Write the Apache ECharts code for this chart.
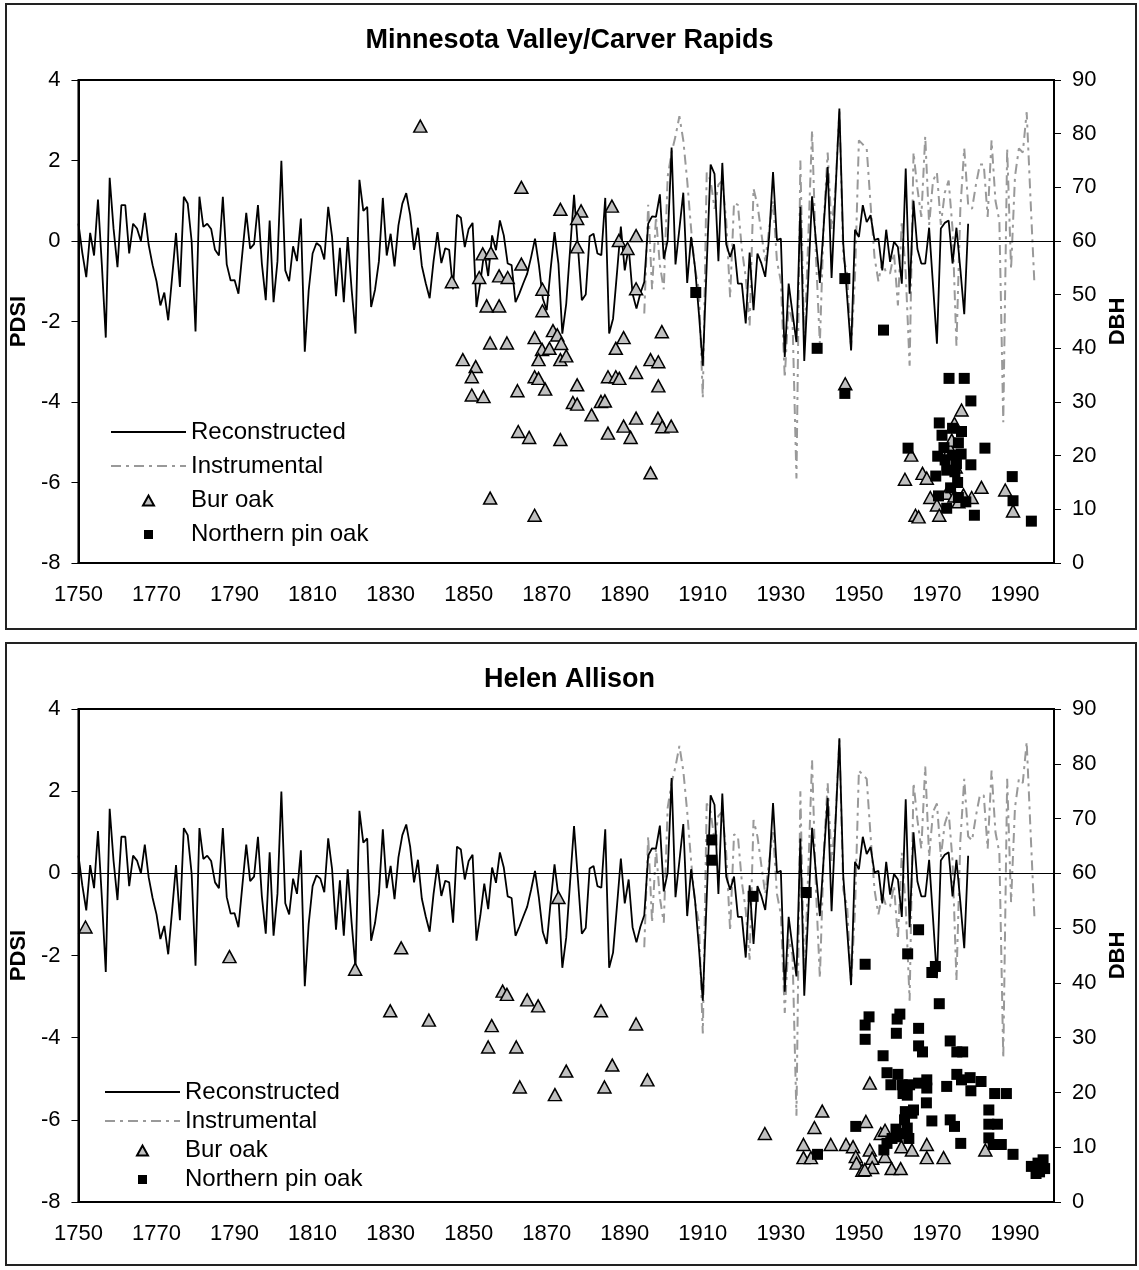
<!DOCTYPE html>
<html>
<head>
<meta charset="utf-8">
<script src="https://cdn.jsdelivr.net/npm/echarts@6/dist/echarts.min.js"></script>
<style>
html,body{margin:0;padding:0;background:#fff;}
#chart{width:1139px;height:1270px;}
</style>
</head>
<body>
<div id="chart"></div>
<script>
// ---------------- DATA ----------------
const panelTitles = ['Minnesota Valley/Carver Rapids', 'Helen Allison'];
const seriesNames = ['Reconstructed', 'Instrumental', 'Bur oak', 'Northern pin oak'];

// Reconstructed PDSI, one value per year starting 1750 (to 1978)
const reconStartYear = 1750;
const reconValues = [
  0.43,-0.3,-0.9,0.2,-0.36,1.03,-0.6,-2.4,1.57,0.3,
  -0.65,0.89,0.89,-0.31,0.43,0.31,0.0,0.7,-0.1,-0.6,
  -1.0,-1.6,-1.28,-1.97,-0.9,0.2,-1.14,1.1,0.93,0.0,
  -2.25,1.1,0.35,0.43,0.3,-0.22,-0.36,1.1,-0.58,-0.98,
  -0.97,-1.31,-0.3,0.7,-0.19,-0.08,0.89,-0.56,-1.47,0.51,
  -1.52,-0.5,1.99,-0.73,-1.0,-0.13,-0.5,0.56,-2.75,-1.23,
  -0.31,-0.05,-0.13,-0.46,0.85,0.1,-1.37,-0.17,-1.52,0.1,
  -1.2,-2.3,1.52,0.75,0.85,-1.64,-1.21,-0.5,1.07,-0.36,
  0.18,-0.63,0.39,0.93,1.19,0.65,-0.22,0.33,-0.62,-1.05,
  -1.42,-0.5,0.22,-0.55,-0.18,-0.22,-1.2,0.65,0.58,-0.15,
  0.3,0.45,-1.64,-1.02,-0.25,-0.87,0.14,-0.23,0.51,0.14,
  -0.56,-0.6,-1.52,-1.3,-1.05,-0.81,-0.4,0.06,-0.6,-1.43,
  -1.72,-0.7,0.22,-0.56,-2.3,-1.56,-0.2,1.15,-0.15,-1.47,
  -1.33,0.12,0.18,-0.31,-0.35,1.07,-2.3,-1.93,-0.8,0.36,
  -0.73,-0.15,-1.31,-1.68,-1.3,-1.02,0.43,0.61,0.6,1.16,
  -0.44,0.02,2.32,-0.58,0.3,1.2,-1.04,0.1,-0.65,-1.8,
  -3.1,-0.6,1.9,1.67,-0.5,1.94,-0.08,-0.4,-0.08,-1.06,
  -1.06,-2.05,-0.29,-1.72,-0.31,-0.55,-0.89,0.1,1.71,0.02,
  0.06,-2.88,-1.06,-1.8,-2.51,0.85,-2.98,-1.0,1.11,0.0,
  -1.04,0.4,1.84,-0.92,1.2,3.29,-0.07,-1.4,-2.72,0.28,
  0.1,0.89,0.47,0.64,0.02,0.06,-0.73,0.28,-0.52,-0.02,
  -0.15,-1.06,1.8,-1.31,1.0,-0.2,-0.56,-0.56,0.33,-1.1,
  -2.55,0.31,0.45,0.51,-0.56,0.33,-0.7,-1.82,0.43
];

// Instrumental PDSI, one value per year starting 1895 (to 1995)
const instStartYear = 1895;
const instValues = [
  -1.8,0.9,-1.2,0.6,-0.6,-1.2,1.6,2.2,2.6,3.1,
  2.5,1.5,0.3,-0.7,-1.2,-3.9,1.7,1.5,0.8,1.4,
  1.5,0.5,-1.4,0.95,0.9,-0.2,-0.9,-2.1,1.3,0.9,
  0.2,-0.5,0.3,1.0,-0.5,-1.0,-3.4,-1.6,-2.0,-5.9,
  2.0,-2.6,0.0,2.75,-0.4,-2.55,0.5,2.2,0.3,1.3,
  3.25,-0.4,-0.8,-2.7,-0.9,2.5,2.4,2.3,0.9,-0.4,
  -1.0,-0.5,-0.8,-0.8,-0.3,-1.6,0.5,-0.8,-3.1,2.2,
  1.3,0.6,2.6,0.4,1.5,1.7,0.4,1.2,1.5,0.3,
  -2.6,0.8,2.3,0.9,0.8,1.4,1.9,1.9,0.6,2.5,
  1.0,0.5,-4.5,2.3,-0.7,1.6,2.3,2.2,3.2,1.0,-1.1
];

// Tree establishment [year, DBH]
const burOakTop = [
  [1837.6,81.4],[1863.5,70.0],[1873.5,65.9],[1878.8,65.6],[1877.8,64.2],[1886.7,66.5],[1877.8,58.9],[1888.5,60.1],
  [1892.9,61.0],[1890.7,58.6],[1845.7,52.4],[1853.6,57.6],[1855.7,57.8],[1852.7,53.2],[1857.8,53.5],[1860,53.2],
  [1863.5,55.7],[1868.9,51.0],[1854.6,47.9],[1857.8,47.9],[1868.9,47.0],[1892.9,51.1],[1871.6,43.3],[1872.7,42.5],
  [1873.7,40.9],[1866.9,42.0],[1868.8,39.8],[1870.7,40.0],[1867.9,37.9],[1873.5,37.9],[1875,38.6],[1855.5,41.0],
  [1859.8,41.0],[1848.5,37.9],[1851.8,36.6],[1850.8,34.7],[1850.8,31.3],[1853.8,31.0],[1862.5,32.1],[1866.9,34.7],
  [1867.9,34.4],[1869.6,32.4],[1877.8,33.2],[1876.7,29.9],[1877.8,29.6],[1883.9,30.1],[1884.9,30.2],[1881.5,27.6],
  [1885.7,34.7],[1887.7,34.7],[1888.6,34.4],[1892.9,35.5],[1887.7,40.0],[1889.7,42.0],[1896.6,37.9],[1898.6,37.5],
  [1899.5,43.1],[1898.6,33.0],[1862.7,24.5],[1865.5,23.4],[1873.5,23.0],[1885.7,24.2],[1889.7,25.5],[1891.5,23.4],
  [1892.9,27.0],[1898.5,27.0],[1899.6,25.4],[1901.9,25.5],[1896.6,16.8],[1855.5,12.1],[1866.9,8.9],[1946.5,33.4],
  [1976.3,28.5],[1974.5,26.0],[1963.4,20.1],[1973.4,21.2],[1961.8,15.6],[1966.3,16.7],[1967.4,15.8],[1981.4,14.1],
  [1987.5,13.6],[1989.5,9.7],[1968.3,12.2],[1970,10.8],[1972.5,13.0],[1974.5,12.5],[1976.8,12.7],[1978.9,12.2],
  [1964.5,8.9],[1965.3,8.6],[1970.6,8.9],[1975.5,11.4],[1974.8,17.9],[1973.8,22.9]
];
const pinOakTop = [
  [1908.2,50.4],[1939.3,40.0],[1946.4,53.0],[1946.4,31.6],[1956.3,43.4],[1973.1,34.4],[1977,34.4],[1978.7,30.2],
  [1970.6,26.1],[1971.3,23.8],[1974,25.1],[1976.3,24.5],[1975.5,22.4],[1962.6,21.4],[1982.3,21.4],[1970.2,19.9],
  [1972.1,19.2],[1974,20.1],[1976.2,20.3],[1978.7,18.3],[1972.5,17.3],[1974.6,17.0],[1969.7,16.2],[1975.3,15.0],
  [1989.3,16.1],[1970.4,12.5],[1975.5,12.2],[1977.4,11.4],[1972.5,10.2],[1979.6,8.9],[1989.5,11.6],[1994.2,7.8],
  [1973.5,14.0],[1975.0,18.5],[1971.8,21.5]
];
const burOakBottom = [
  [1751.8,50.2],[1788.7,44.8],[1820.9,42.5],[1832.7,46.4],[1829.9,34.9],[1839.8,33.2],[1873.0,55.6],[1858.7,38.5],
  [1859.8,37.9],[1865.0,36.9],[1867.8,35.8],[1855.9,32.2],[1855.0,28.3],[1862.2,28.3],[1883.9,34.9],[1892.9,32.5],
  [1886.8,25.0],[1875.0,23.9],[1895.8,22.3],[1863.1,21.0],[1872.1,19.6],[1884.8,21.0],
  [1925.9,12.5],[1940.6,16.6],[1938.6,13.6],[1935.8,10.5],[1935.8,8.1],[1937.7,8.1],[1942.8,10.5],[1946.7,10.5],
  [1948.5,10.1],[1949.2,8.3],[1949.4,7.1],[1950.9,5.8],[1952.8,21.7],[1951.8,14.7],[1952.8,9.5],[1953.4,8.0],
  [1953.4,6.3],[1955.6,12.5],[1956.7,13.1],[1956.7,8.3],[1958.4,6.1],[1960.7,6.1],[1960.9,10.1],[1963.6,9.5],
  [1967.4,10.5],[1967.4,8.1],[1971.7,8.1],[1982.4,9.5],[1951.5,5.9]
];
const pinOakBottom = [
  [1912.3,66.1],[1912.3,62.4],[1922.9,55.8],[1936.5,56.5],[1965.3,49.7],[1962.5,45.3],[1951.6,43.4],[1969.6,43.0],
  [1968.7,41.9],[1970.6,36.2],[1952.6,33.8],[1951.6,32.3],[1951.6,29.7],[1960.5,34.3],[1959.8,33.4],[1959.6,30.8],
  [1965.3,31.7],[1965.3,28.5],[1966.3,27.4],[1973.4,29.4],[1975.1,27.4],[1976.6,27.4],[1956.2,26.7],[1957.2,23.6],
  [1960,23.3],[1958.2,21.4],[1961.1,21.4],[1963,21.4],[1965.3,21.7],[1967.4,22.3],[1967.4,20.8],[1961.3,19.8],
  [1962.4,19.5],[1972.5,21.1],[1975.1,23.3],[1976.3,22.3],[1978.5,22.7],[1978.7,20.3],[1981.3,22.0],[1984.8,19.8],
  [1987.8,19.8],[1967.3,18.1],[1964,16.8],[1961.9,16.5],[1961.7,15.0],[1962.4,13.5],[1962.8,11.6],[1968.7,14.8],
  [1973.4,15.0],[1974.5,13.8],[1983.3,16.8],[1983.3,14.2],[1985.5,14.2],[1983.3,11.7],[1984.4,10.5],[1986.5,10.5],
  [1976.1,10.7],[1989.5,8.7],[1949.2,13.8],[1939.4,8.7],[1959.5,13.3],[1958.5,11.6],[1957.2,10.7],[1956.4,9.5],
  [1959.8,11.9],[1961.5,12.5],[1963.6,16.2],[1994.2,6.5],[1995.9,7.1],[1996.3,5.5],[1997.6,6.1],[1997.2,7.7],
  [1995.4,5.2],[1986.0,10.5]
];

// Axis ranges / ticks
const xMin = 1750, xMax = 2000, xStep = 20;
const pdsiMin = -8, pdsiMax = 4, pdsiStep = 2;
const dbhMin = 0, dbhMax = 90, dbhStep = 10;

// ---------------- BUILD ----------------
const FONT = '"Liberation Sans", Arial, sans-serif';
const toPairs = (start, vals) => vals.map((v, i) => [start + i, v]);
const reconData = toPairs(reconStartYear, reconValues);
const instData = toPairs(instStartYear, instValues);

const layouts = [
  { top: 80, height: 483, titleTop: 22, legendLeft: 110, legendTop: 420, legendGap: 10 },
  { top: 709, height: 493, titleTop: 661, legendLeft: 104, legendTop: 1080, legendGap: 5 }
];
const scatterSets = [[burOakTop, pinOakTop], [burOakBottom, pinOakBottom]];

// legend marker icons: a small marker centred in the 75 px legend slot
const triIcon = 'path://M0,0L0,0M75,12L75,12M32,11.5L37.5,1.5L43,11.5Z';
const sqIcon = 'path://M0,0L0,0M75,12L75,12M33,2H42V11H33Z';
const legendData = [
  { name: 'Reconstructed', itemStyle: { opacity: 0 } },
  { name: 'Instrumental', itemStyle: { opacity: 0 } },
  { name: 'Bur oak', icon: triIcon },
  { name: 'Northern pin oak', icon: sqIcon }
];

const option = {
  animation: false,
  backgroundColor: '#fff',
  textStyle: { fontFamily: FONT },
  graphic: [
    { type: 'rect', silent: true, z: -10, shape: { x: 6, y: 4, width: 1130, height: 625 }, style: { fill: 'none', stroke: '#222', lineWidth: 2 } },
    { type: 'rect', silent: true, z: -10, shape: { x: 6, y: 643, width: 1130, height: 622 }, style: { fill: 'none', stroke: '#222', lineWidth: 2 } }
  ],
  title: [], grid: [], xAxis: [], yAxis: [], legend: [], series: []
};

layouts.forEach((L, p) => {
  option.title.push({
    text: panelTitles[p], left: 'center', top: L.titleTop,
    textStyle: { fontFamily: FONT, fontSize: 27, fontWeight: 'bold', color: '#000' }
  });
  option.grid.push({
    left: 74, right: 85, top: L.top, height: L.height,
    show: true, borderColor: '#000', borderWidth: 2, backgroundColor: 'transparent'
  });
  option.xAxis.push({
    type: 'value', gridIndex: p, min: xMin, max: xMax, interval: xStep,
    axisLine: { show: true, onZero: false, lineStyle: { color: '#000', width: 2 } },
    axisTick: { show: false },
    splitLine: { show: false },
    axisLabel: { color: '#000', fontSize: 22, fontFamily: FONT, margin: 21,
      formatter: v => (v === xMax ? '' : String(v)) }
  });
  option.yAxis.push({
    type: 'value', gridIndex: p, min: pdsiMin, max: pdsiMax, interval: pdsiStep, position: 'left',
    name: 'PDSI', nameLocation: 'middle', nameRotate: 90, nameGap: 34,
    nameTextStyle: { fontFamily: FONT, fontSize: 22, fontWeight: 'bold', color: '#000' },
    axisLine: { show: true, onZero: false, lineStyle: { color: '#000', width: 2 } },
    axisTick: { show: true, length: 7, lineStyle: { color: '#000', width: 1 } },
    splitLine: { show: false },
    axisLabel: { color: '#000', fontSize: 22, fontFamily: FONT, margin: 18 }
  });
  option.yAxis.push({
    type: 'value', gridIndex: p, min: dbhMin, max: dbhMax, interval: dbhStep, position: 'right',
    name: 'DBH', nameLocation: 'middle', nameRotate: 90, nameGap: 50,
    nameTextStyle: { fontFamily: FONT, fontSize: 22, fontWeight: 'bold', color: '#000' },
    axisLine: { show: true, onZero: false, lineStyle: { color: '#000', width: 2 } },
    axisTick: { show: true, length: 7, lineStyle: { color: '#000', width: 1 } },
    splitLine: { show: false },
    axisLabel: { color: '#000', fontSize: 22, fontFamily: FONT, margin: 18 }
  });
  option.legend.push({
    orient: 'vertical', left: L.legendLeft, top: L.legendTop, padding: 0,
    itemWidth: 75, itemHeight: 12, itemGap: L.legendGap,
    symbolKeepAspect: true,
    selectedMode: false, data: legendData,
    textStyle: { fontFamily: FONT, fontSize: 24, color: '#000' }
  });
  const yPdsi = p * 2, yDbh = p * 2 + 1;
  option.series.push({
    name: 'Instrumental', type: 'line', xAxisIndex: p, yAxisIndex: yPdsi,
    data: instData, symbol: 'none', z: 2,
    lineStyle: { color: '#999', width: 2, type: [10, 5, 3, 5] },
    itemStyle: { color: '#999' }
  });
  option.series.push({
    name: 'Reconstructed', type: 'line', xAxisIndex: p, yAxisIndex: yPdsi,
    data: reconData, symbol: 'none', z: 3,
    lineStyle: { color: '#000', width: 1.8 },
    itemStyle: { color: '#000' },
    markLine: {
      silent: true, symbol: ['none', 'none'], label: { show: false },
      lineStyle: { color: '#000', width: 1, type: 'solid' },
      data: [{ yAxis: 0 }]
    }
  });
  option.series.push({
    name: 'Bur oak', type: 'scatter', xAxisIndex: p, yAxisIndex: yDbh,
    data: scatterSets[p][0], symbol: 'triangle', symbolSize: [13, 12], z: 4,
    itemStyle: { color: '#c0c0c0', borderColor: '#000', borderWidth: 1.5, opacity: 1 }
  });
  option.series.push({
    name: 'Northern pin oak', type: 'scatter', xAxisIndex: p, yAxisIndex: yDbh,
    data: scatterSets[p][1], symbol: 'rect', symbolSize: 11, z: 5,
    itemStyle: { color: '#000', opacity: 1 }
  });
});

const chart = echarts.init(document.getElementById('chart'), null, { renderer: 'canvas' });
chart.setOption(option);
</script>
</body>
</html>
